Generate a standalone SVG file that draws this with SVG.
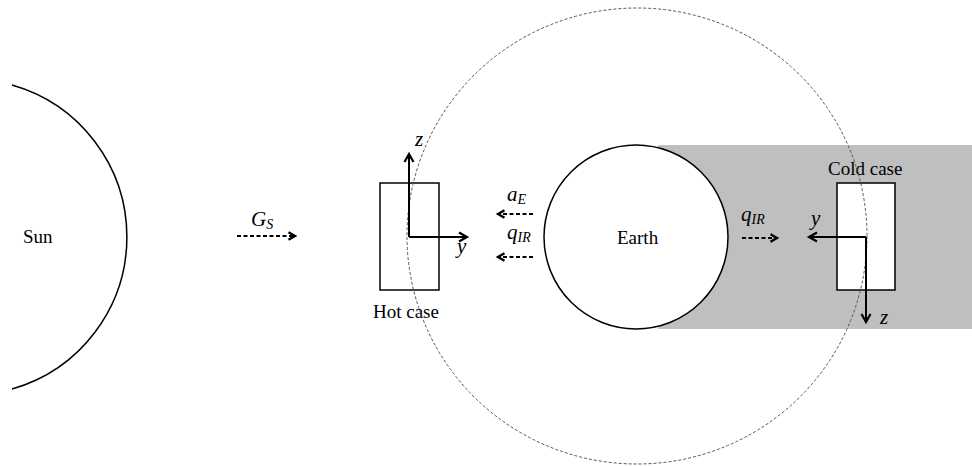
<svg xmlns="http://www.w3.org/2000/svg" width="972" height="466" viewBox="0 0 972 466">
<style>
.lbl{font-family:"Times New Roman","Liberation Serif","DejaVu Serif",serif;font-size:19px;fill:#000}
.math{font-family:"Cambria Math","Liberation Serif","DejaVu Serif",serif;font-style:italic;font-size:21px;fill:#000}
.sub{font-size:14px}
.axis{stroke:#000;stroke-width:2;fill:none}
.flux{stroke:#000;stroke-width:2.2;fill:none;stroke-dasharray:4 2.5}
.box{stroke:#000;stroke-width:1.5;fill:#fff}
</style>
<defs>
<marker id="ah" markerUnits="userSpaceOnUse" markerWidth="14" markerHeight="14" viewBox="-11 -7 14 14" refX="0" refY="0" orient="auto">
<path d="M-8,-4.5 L0,0 L-8,4.5" fill="none" stroke="#000" stroke-width="2.2" stroke-dasharray="none"/>
</marker>
<marker id="ahs" markerUnits="userSpaceOnUse" markerWidth="14" markerHeight="14" viewBox="-11 -7 14 14" refX="0" refY="0" orient="auto">
<path d="M-6.5,-3.8 L0,0 L-6.5,3.8" fill="none" stroke="#000" stroke-width="2.4" stroke-dasharray="none"/>
</marker>
</defs>
<rect width="972" height="466" fill="#fff"/>
<g id="shadow"><rect x="658" y="145" width="314" height="184" fill="#bfbfbf"/></g>
<g id="sun">
<path d="M12,85 A158,158 0 0 1 12,389" fill="none" stroke="#000" stroke-width="1.5"/>
<text class="lbl" x="23" y="243">Sun</text>
</g>
<g id="earth">
<circle cx="636" cy="237" r="92" fill="#fff" stroke="#000" stroke-width="1.5"/>
<text class="lbl" x="617" y="244">Earth</text>
</g>
<g id="cold-case">
<rect class="box" x="837" y="183" width="58" height="107"/>
<text class="lbl" x="828" y="175">Cold case</text>
</g>
<g id="hot-case">
<rect class="box" x="380" y="183" width="59" height="107"/>
<text class="lbl" x="373" y="318">Hot case</text>
</g>
<g id="orbit"><ellipse cx="637" cy="236" rx="230" ry="228" fill="none" stroke="#555" stroke-width="1" stroke-dasharray="3 2"/></g>
<g id="connectors">
<path class="axis" d="M409,237 L409,154" marker-end="url(#ah)"/>
<path class="axis" d="M409,237 L467,237" marker-end="url(#ah)"/>
<path class="axis" d="M866,237 L809,237" marker-end="url(#ah)"/>
<path class="axis" d="M866,237 L866,322" marker-end="url(#ah)"/>
<path class="flux" d="M237,236 L295,236" marker-end="url(#ahs)"/>
<path class="flux" d="M533,214 L498,214" marker-end="url(#ahs)"/>
<path class="flux" d="M533,257 L498,257" marker-end="url(#ahs)"/>
<path class="flux" d="M742,238 L777,238" marker-end="url(#ahs)"/>
</g>
<g id="labels">
<text class="math" x="415" y="146">z</text>
<text class="math" x="457" y="253">y</text>
<text class="math" x="811" y="225">y</text>
<text class="math" x="880" y="324">z</text>
<text class="math" x="251" y="226">G<tspan class="sub" dy="3">S</tspan></text>
<text class="math" x="507" y="201">a<tspan class="sub" dy="3">E</tspan></text>
<text class="math" x="507" y="239">q<tspan class="sub" dy="3">IR</tspan></text>
<text class="math" x="741" y="221">q<tspan class="sub" dy="3">IR</tspan></text>
</g>
</svg>
